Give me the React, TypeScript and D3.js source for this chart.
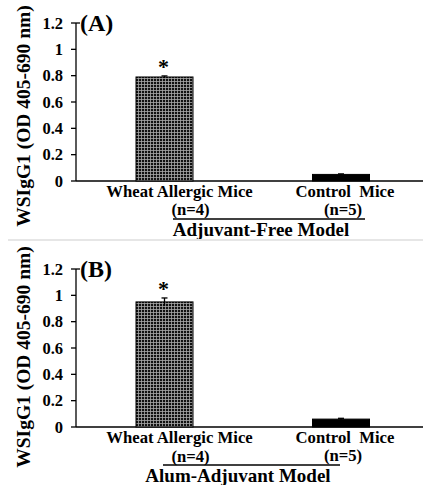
import React from "react";
import * as d3 from "d3";

const categories = ["Wheat Allergic Mice", "Control  Mice"];
const groupSizes = ["(n=4)", "(n=5)"];
const yTicks = [0, 0.2, 0.4, 0.6, 0.8, 1, 1.2];
const yTitle = "WSIgG1 (OD 405-690 nm)";

const panelLetters = ["(A)", "(B)"];
const modelNames = ["Adjuvant-Free Model", "Alum-Adjuvant Model"];
const adjuvantFreeValues = [0.79, 0.05];
const adjuvantFreeErrors = [0.008, 0.004];
const alumValues = [0.95, 0.06];
const alumErrors = [0.03, 0.006];
const significance = ["*", ""];

const W = 423;
const H = 485;
const FONT = "'Liberation Serif', 'Times New Roman', serif";

type PanelProps = {
  top: number;
  letter: string;
  model: string;
  values: number[];
  errors: number[];
  layout: {
    labelY: number;
    nY: number[];
    underline: [number, number, number];
    modelX: number;
    modelY: number;
    titleY: number;
  };
  pid: string;
};

function Panel({ top, letter, model, values, errors, layout, pid }: PanelProps) {
  const y = d3.scaleLinear().domain([0, 1.2]).range([top, top - 158]);
  const x = d3.scalePoint<string>().domain(categories).range([164.5, 341]);
  const axisX = 76;
  const barW = 57;
  const fmt = (v: number) => d3.format("~g")(v);
  const labelOffsets = [15, 4];
  const nOffsets = [26, 2];
  return (
    <g>
      <defs>
        <pattern id={`grid-${pid}`} width={3} height={3} patternUnits="userSpaceOnUse">
          <rect width={3} height={3} fill="#111" />
          <rect x={0} y={0} width={3} height={0.8} fill="#a8a8a8" />
          <rect x={0} y={0} width={0.8} height={3} fill="#a8a8a8" />
        </pattern>
      </defs>
      <text
        transform={`translate(23,${layout.titleY}) rotate(-90)`}
        textAnchor="middle"
        fontFamily={FONT}
        fontWeight="bold"
        fontSize={19.5}
        dominantBaseline="central"
      >
        {yTitle}
      </text>
      <line x1={axisX} x2={axisX} y1={y(0)} y2={y(1.2)} stroke="#000" strokeWidth={1.3} />
      <line x1={axisX} x2={axisX + 4} y1={y(1.2)} y2={y(1.2)} stroke="#000" strokeWidth={1.3} />
      {yTicks.map((t) => (
        <g key={t}>
          <line x1={axisX - 5} x2={axisX} y1={y(t)} y2={y(t)} stroke="#000" strokeWidth={1.3} />
          <text
            x={63}
            y={y(t)}
            textAnchor="end"
            dominantBaseline="central"
            fontFamily={FONT}
            fontWeight="bold"
            fontSize={16.5}
          >
            {fmt(t)}
          </text>
        </g>
      ))}
      <line x1={axisX} x2={W} y1={y(0)} y2={y(0)} stroke="#000" strokeWidth={1.3} />
      {categories.map((c, i) => {
        const cx = x(c)!;
        const v = values[i];
        const e = errors[i];
        return (
          <g key={c}>
            <rect
              x={cx - barW / 2}
              y={y(v)}
              width={barW}
              height={y(0) - y(v)}
              fill={i === 0 ? `url(#grid-${pid})` : "#000"}
              stroke="#000"
              strokeWidth={1}
            />
            <line x1={cx} x2={cx} y1={y(v + e)} y2={y(v - e)} stroke="#000" strokeWidth={1.3} />
            <line x1={cx - 3} x2={cx + 3} y1={y(v + e)} y2={y(v + e)} stroke="#000" strokeWidth={1.3} />
            {significance[i] && (
              <text
                x={cx - 1}
                y={y(v + e) - 2}
                textAnchor="middle"
                fontFamily={FONT}
                fontWeight="bold"
                fontSize={22}
              >
                {significance[i]}
              </text>
            )}
            <text
              x={cx + labelOffsets[i]}
              y={layout.labelY}
              textAnchor="middle"
              fontFamily={FONT}
              fontWeight="bold"
              fontSize={16.7}
              style={{ whiteSpace: "pre" }}
            >
              {c}
            </text>
            <text
              x={cx + nOffsets[i]}
              y={layout.nY[i]}
              textAnchor="middle"
              fontFamily={FONT}
              fontWeight="bold"
              fontSize={16.7}
            >
              {groupSizes[i]}
            </text>
          </g>
        );
      })}
      <line
        x1={layout.underline[0]}
        x2={layout.underline[1]}
        y1={layout.underline[2]}
        y2={layout.underline[2]}
        stroke="#000"
        strokeWidth={1.3}
      />
      <text
        x={layout.modelX}
        y={layout.modelY}
        textAnchor="middle"
        fontFamily={FONT}
        fontWeight="bold"
        fontSize={19}
      >
        {model}
      </text>
      <text x={80} y={y(1.2) + 8} fontFamily={FONT} fontWeight="bold" fontSize={24}>
        {letter}
      </text>
    </g>
  );
}

export default function App() {
  return (
    <svg
      width={W}
      height={H}
      viewBox={`0 0 ${W} ${H}`}
      style={{ position: "absolute", left: 0, top: 0, background: "#fff" }}
    >
      <rect width={W} height={H} fill="#fff" />
      <Panel
        pid="a"
        top={181}
        letter={panelLetters[0]}
        model={modelNames[0]}
        values={adjuvantFreeValues}
        errors={adjuvantFreeErrors}
        layout={{ labelY: 197, nY: [215, 215], underline: [173, 365, 219], modelX: 261, modelY: 236, titleY: 116 }}
      />
      <line x1={8} x2={W} y1={240} y2={240} stroke="#e6e6e6" strokeWidth={2} />
      <Panel
        pid="b"
        top={427}
        letter={panelLetters[1]}
        model={modelNames[1]}
        values={alumValues}
        errors={alumErrors}
        layout={{ labelY: 443, nY: [462, 461], underline: [163, 340, 465], modelX: 238, modelY: 482, titleY: 357 }}
      />
    </svg>
  );
}
